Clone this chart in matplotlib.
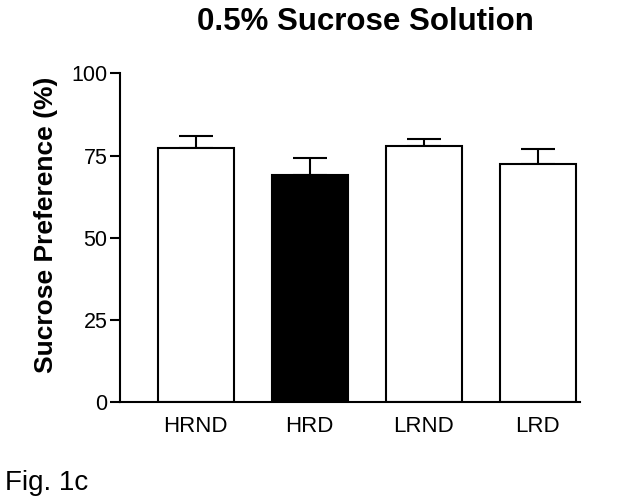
import matplotlib
matplotlib.use("Agg")
import matplotlib.pyplot as plt

# groupes et valeurs
groupes = ["HRND", "HRD", "LRND", "LRD"]
moyennes = [77.4, 69.1, 77.9, 72.4]
erreurs = [3.6, 5.3, 2.1, 4.7]
couleurs = ["white", "black", "white", "white"]

plt.rcParams["font.family"] = ["Liberation Sans", "DejaVu Sans"]

fig = plt.figure(figsize=(6.21, 5.03), dpi=100)
ax = fig.add_axes([0.193, 0.201, 0.741, 0.653])

x = range(len(groupes))
ax.bar(x, moyennes, width=0.667, color=couleurs, edgecolor="black", linewidth=1.5, zorder=2)
ax.errorbar(x, moyennes, yerr=[[0] * len(erreurs), erreurs], fmt="none",
            ecolor="black", elinewidth=1.5, capsize=12, capthick=1.5, zorder=1)

ax.set_xlim(-0.664, 3.37)
ax.set_ylim(0, 100)
ax.set_yticks([0, 25, 50, 75, 100])
ax.set_xticks(list(x))
ax.set_xticklabels(groupes)
ax.tick_params(axis="y", length=7, width=1.5, labelsize=15.5, pad=2)
ax.tick_params(axis="x", length=0, labelsize=16, pad=10)

for s in ["top", "right"]:
    ax.spines[s].set_visible(False)
for s in ["left", "bottom"]:
    ax.spines[s].set_linewidth(1.5)

ax.set_ylabel("Sucrose Preference (%)", fontsize=19, fontweight="bold")
ax.yaxis.set_label_coords(-0.135, 0.539)
fig.text(0.588, 0.94, "0.5% Sucrose Solution", ha="center", va="baseline",
         fontsize=22.5, fontweight="bold")
fig.text(0.008, 0.026, "Fig. 1c", ha="left", va="baseline", fontsize=20)

fig.savefig("out.png", dpi=100)
